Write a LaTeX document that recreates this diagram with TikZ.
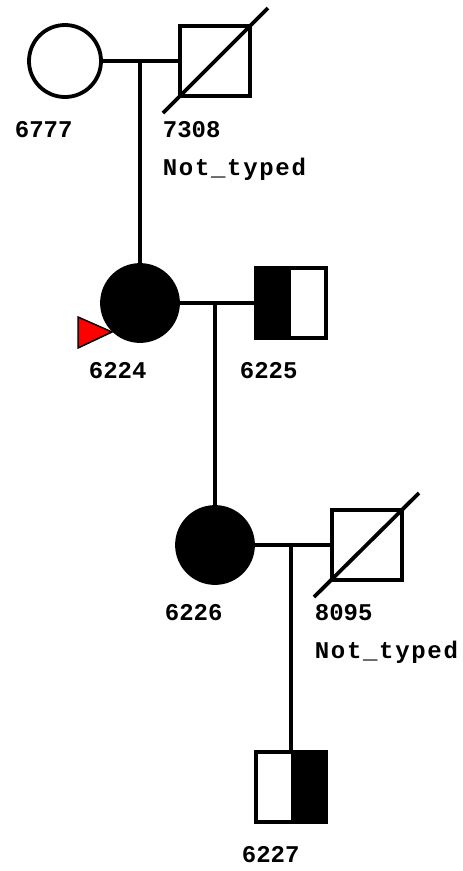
\documentclass[tikz,border=0pt]{standalone}
\usepackage{fontspec}
\setmonofont{Liberation Mono}
\begin{document}
\begin{tikzpicture}[x=1pt,y=-1pt,
  line width=3.8pt,
  person/.style={draw=black,line width=3.8pt,inner sep=0pt,outer sep=0pt},
  female/.style={person,circle,minimum size=72pt},
  afffemale/.style={person,circle,fill=black,minimum size=76pt},
  male/.style={person,rectangle,minimum size=70pt},
  lbl/.style={anchor=base west,inner sep=0pt,font=\ttfamily\bfseries\fontsize{24}{24}\selectfont},
  wide/.style={font=\ttfamily\bfseries\fontsize{24}{24}\selectfont\addfontfeature{LetterSpace=7}},
  rel/.style={draw=black,line width=3.8pt}]
\useasboundingbox (0,0) rectangle (463,871);
% generation 1
\node[female] (p6777) at (65,61) {};
\node[male] (p7308) at (215,61) {};
\coordinate (d7308a) at (163,113);
\coordinate (d7308b) at (268,8);
\draw[rel] (d7308a) -- (d7308b);
\draw[rel] (p6777.east) -- (p7308.west);
\coordinate (m1) at (140,61);
% generation 2
\node[afffemale] (p6224) at (140,303) {};
\node[male] (p6225) at (291,303) {};
\fill[black] (p6225.north west) rectangle (p6225.south);
\node[male] (p6225b) at (291,303) {};
\draw[rel] (m1) -- (p6224.north);
\draw[rel] (p6224.east) -- (p6225.west);
\coordinate (m2) at (215,303);
\draw[black,fill=red,line width=1.5pt] (78,317) -- (78,348) -- (112,332) -- cycle;
% generation 3
\node[afffemale] (p6226) at (215,545) {};
\node[male] (p8095) at (367,545) {};
\coordinate (d8095a) at (314,597);
\coordinate (d8095b) at (419,493);
\draw[rel] (d8095a) -- (d8095b);
\draw[rel] (m2) -- (p6226.north);
\draw[rel] (p6226.east) -- (p8095.west);
\coordinate (m3) at (291,545);
% generation 4
\node[male] (p6227) at (291,787) {};
\fill[black] (p6227.north) rectangle (p6227.south east);
\node[male] (p6227b) at (291,787) {};
\draw[rel] (m3) -- (p6227.north);
% labels
\node[lbl] (l6777) at (13,137) {6777};
\node[lbl] (l7308) at (161,137) {7308};
\node[lbl,wide] (n7308) at (161,175) {Not\_typed};
\node[lbl] (l6224) at (87,378) {6224};
\node[lbl] (l6225) at (238,378) {6225};
\node[lbl] (l6226) at (163,620) {6226};
\node[lbl] (l8095) at (313,620) {8095};
\node[lbl,wide] (n8095) at (313,658) {Not\_typed};
\node[lbl] (l6227) at (240,862) {6227};
\end{tikzpicture}
\end{document}
